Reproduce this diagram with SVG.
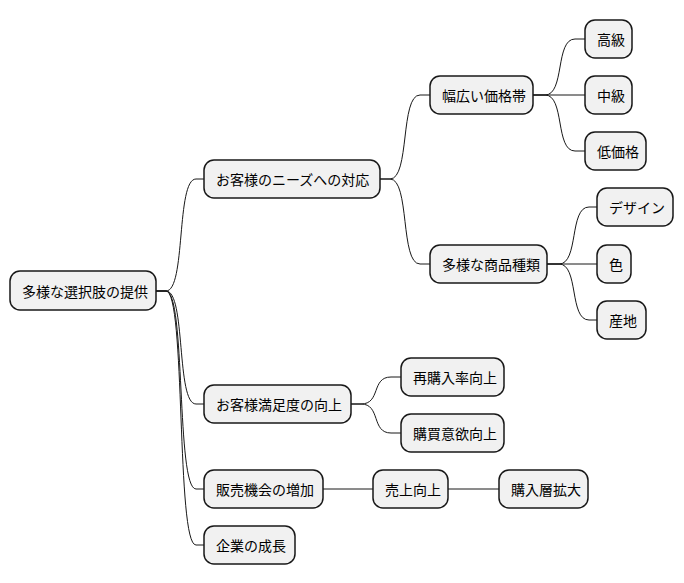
<svg xmlns="http://www.w3.org/2000/svg" width="684" height="583" viewBox="0 0 684 583">
<style>
.n rect{fill:#F1F1F1;stroke:#181818;stroke-width:1.5}
.n text{font-family:"Noto Sans CJK JP","Noto Sans CJK SC",sans-serif;font-size:14px;fill:#000;dominant-baseline:central}
#c path{fill:none;stroke:#181818;stroke-width:1}
</style>
<rect width="684" height="583" fill="#fff"/>
<g id="c">
<path d="M156,291 L166,291 C186,291 176,179 196,179 L204,179"/>
<path d="M156,291 L166,291 C186,291 176,404 196,404 L204,404"/>
<path d="M156,291 L166,291 C186,291 176,489 196,489 L204,489"/>
<path d="M156,291 L166,291 C186,291 176,545 196,545 L204,545"/>
<path d="M380,179 L390,179 C410,179 400,95 420,95 L430,95"/>
<path d="M380,179 L390,179 C410,179 400,264 420,264 L430,264"/>
<path d="M533,95 L545,95 C565,95 555,39 575,39 L585,39"/>
<path d="M533,95 L585,95"/>
<path d="M533,95 L545,95 C565,95 555,151 575,151 L585,151"/>
<path d="M547,264 L559,264 C579,264 569,207 589,207 L597,207"/>
<path d="M547,264 L597,264"/>
<path d="M547,264 L559,264 C579,264 569,320 589,320 L597,320"/>
<path d="M351,404 L361,404 C381,404 371,377 391,377 L401,377"/>
<path d="M351,404 L361,404 C381,404 371,433 391,433 L401,433"/>
<path d="M323,489 L373,489"/>
<path d="M448,489 L499,489"/>
</g>
<g id="n0" class="n"><rect x="10" y="271" width="146" height="39" rx="10"/><text x="22" y="291">多様な選択肢の提供</text></g>
<g id="n1" class="n"><rect x="204" y="160" width="176" height="38" rx="10"/><text x="216" y="179">お客様のニーズへの対応</text></g>
<g id="n2" class="n"><rect x="430" y="76" width="103" height="38" rx="10"/><text x="442" y="95">幅広い価格帯</text></g>
<g id="n3" class="n"><rect x="585" y="20" width="47" height="38" rx="10"/><text x="597" y="39">高級</text></g>
<g id="n4" class="n"><rect x="585" y="76" width="47" height="38" rx="10"/><text x="597" y="95">中級</text></g>
<g id="n5" class="n"><rect x="585" y="132" width="61" height="38" rx="10"/><text x="597" y="151">低価格</text></g>
<g id="n6" class="n"><rect x="430" y="245" width="117" height="38" rx="10"/><text x="442" y="264">多様な商品種類</text></g>
<g id="n7" class="n"><rect x="597" y="188" width="76" height="38" rx="10"/><text x="609" y="207">デザイン</text></g>
<g id="n8" class="n"><rect x="597" y="245" width="34" height="38" rx="10"/><text x="609" y="264">色</text></g>
<g id="n9" class="n"><rect x="597" y="301" width="49" height="38" rx="10"/><text x="609" y="320">産地</text></g>
<g id="n10" class="n"><rect x="204" y="385" width="147" height="38" rx="10"/><text x="216" y="404">お客様満足度の向上</text></g>
<g id="n11" class="n"><rect x="401" y="358" width="103" height="38" rx="10"/><text x="413" y="377">再購入率向上</text></g>
<g id="n12" class="n"><rect x="401" y="414" width="103" height="38" rx="10"/><text x="413" y="433">購買意欲向上</text></g>
<g id="n13" class="n"><rect x="204" y="470" width="119" height="38" rx="10"/><text x="216" y="489">販売機会の増加</text></g>
<g id="n14" class="n"><rect x="373" y="470" width="75" height="38" rx="10"/><text x="385" y="489">売上向上</text></g>
<g id="n15" class="n"><rect x="499" y="470" width="89" height="38" rx="10"/><text x="511" y="489">購入層拡大</text></g>
<g id="n16" class="n"><rect x="204" y="526" width="91" height="38" rx="10"/><text x="216" y="545">企業の成長</text></g>
</svg>
